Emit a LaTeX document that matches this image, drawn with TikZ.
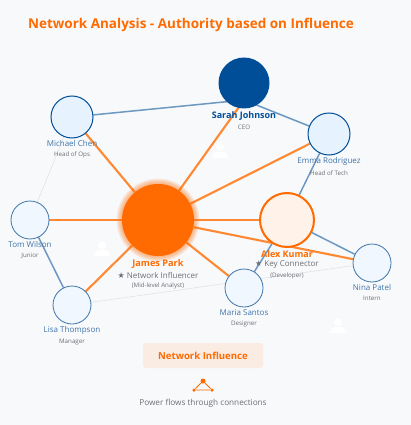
\documentclass[tikz,border=0pt]{standalone}
\usepackage{fontspec}
\setmainfont{Open Sans}
\newfontfamily\symfont{DejaVu Sans}
\usepackage{xcolor}
\usetikzlibrary{positioning, backgrounds}

\definecolor{pagebg}{HTML}{F8F9FB}
\definecolor{inforange}{HTML}{FF6B00}
\definecolor{authblue}{HTML}{004E98}
\definecolor{linkblue}{HTML}{6C98C2}
\definecolor{namecol}{HTML}{3F74AB}
\definecolor{rolecol}{HTML}{6B6F76}
\definecolor{seniorfill}{HTML}{E6F2FE}
\definecolor{juniorfill}{HTML}{F0F7FE}
\definecolor{alexfill}{HTML}{FFF3E9}
\definecolor{boxfill}{HTML}{FAEBE3}

\tikzset{
    person/.style={circle, inner sep=0pt, minimum size=#1},
    senior/.style={person=42pt, draw=authblue, line width=1pt, fill=seniorfill},
    junior/.style={person=38pt, draw=namecol, line width=.8pt, fill=juniorfill},
    flow/.style={draw=inforange!80!white, line width=2.1pt},
    link/.style={draw=linkblue, line width=1.5pt},
    faint/.style={draw=black!12, line width=.5pt},
    pname/.style={text=namecol, font=\fontsize{8}{9}\selectfont, inner sep=0pt},
    prole/.style={text=rolecol, font=\fontsize{6.2}{7}\selectfont, inner sep=0pt},
    usericon/.pic={
        \fill[white] (0,-5) circle (4);
        \fill[white] (-8,6) .. controls (-8,0) and (-4,0) .. (0,0) .. controls (4,0) and (8,0) .. (8,6) -- cycle;
    }
}

\begin{document}
\begin{tikzpicture}[x=1pt, y=-1pt, node distance=4.5pt]
    \useasboundingbox (0,0) rectangle (411,425);
    \begin{scope}[on background layer]
        \fill[pagebg] (0,0) rectangle (411,425);
    \end{scope}

    \node[text=inforange, font=\fontsize{13.5}{17}\selectfont\bfseries, inner sep=0pt] (title) at (191,25) {Network Analysis - Authority based on Influence};

    \pic at (102,250) {usericon};
    \pic at (220,152) {usericon};
    \pic at (338,327) {usericon};

    % glow behind the influencer
    \foreach \r in {36.5,37.5,...,41.5} {
        \fill[inforange, opacity=.1] (158,220) circle (\r);
    }

    \node[senior] (michael) at (72,117) {};
    \node[senior] (emma) at (329,134) {};
    \node[junior] (tom) at (30,220) {};
    \node[junior] (lisa) at (72,305) {};
    \node[junior] (maria) at (244,288) {};
    \node[junior] (nina) at (372,263) {};
    \node[person=51pt, fill=authblue] (sarah) at (244,83) {};
    \node[person=72pt, fill=inforange] (james) at (158,220) {};
    \node[person=54pt, draw=inforange, line width=2pt, fill=alexfill] (alex) at (287,220) {};
    \coordinate (sarahhub) at (244,100);

    \begin{scope}[on background layer]
        \path[faint]
            (michael) edge (tom)
            (lisa) edge (nina);
        \path[link]
            (michael) edge (sarahhub)
            (sarahhub) edge (emma)
            (emma) edge (alex)
            (alex) edge (nina)
            (alex) edge (maria)
            (tom) edge (lisa);
        \path[flow]
            (james) edge (michael)
            (james) edge (sarahhub)
            (james) edge (emma)
            (james) edge (alex)
            (james) edge (nina)
            (james) edge (maria)
            (james) edge (tom)
            (james) edge (lisa);
    \end{scope}

    \node[pname, below=2pt of michael] (michaelname) {Michael Chen};
    \node[prole, below=of michaelname] (michaelrole) {Head of Ops};
    \node[pname, below=2pt of emma] (emmaname) {Emma Rodriguez};
    \node[prole, below=of emmaname] (emmarole) {Head of Tech};
    \node[pname, below=2pt of tom] (tomname) {Tom Wilson};
    \node[prole, below=of tomname] (tomrole) {Junior};
    \node[pname, below=2pt of lisa] (lisaname) {Lisa Thompson};
    \node[prole, below=of lisaname] (lisarole) {Manager};
    \node[pname, below=2pt of maria] (marianame) {Maria Santos};
    \node[prole, below=of marianame] (mariarole) {Designer};
    \node[pname, below=2pt of nina] (ninaname) {Nina Patel};
    \node[prole, below=of ninaname] (ninarole) {Intern};

    \node[pname, text=authblue, font=\fontsize{9}{10}\selectfont\bfseries, below=2.5pt of sarah] (sarahname) {Sarah Johnson};
    \node[prole, below=of sarahname] (sarahrole) {CEO};

    \node[pname, text=inforange, font=\fontsize{9.2}{10}\selectfont\bfseries, below=3pt of james] (jamesname) {James Park};
    \node[prole, font=\fontsize{8}{9}\selectfont, below=3.5pt of jamesname] (jamesbadge) {{\symfont ★} Network Influencer};
    \node[prole, below=3.5pt of jamesbadge] (jamesrole) {(Mid-level Analyst)};

    \node[pname, text=inforange, font=\fontsize{9}{10}\selectfont\bfseries, below=2pt of alex] (alexname) {Alex Kumar};
    \node[prole, font=\fontsize{8}{9}\selectfont, below=3.5pt of alexname] (alexbadge) {{\symfont ★} Key Connector};
    \node[prole, below=3.5pt of alexbadge] (alexrole) {(Developer)};

    % legend
    \node[fill=boxfill, rounded corners=3pt, minimum width=120pt, minimum height=25pt, inner sep=0pt, text=inforange, font=\fontsize{9.6}{10}\selectfont\bfseries] (legend) at (203,355.5) {Network Influence};
    \node[circle, fill=inforange, inner sep=0pt, minimum size=5pt] (icontop) at (203,381) {};
    \node[circle, fill=inforange, inner sep=0pt, minimum size=3.5pt] (iconleft) at (194,390) {};
    \node[circle, fill=inforange, inner sep=0pt, minimum size=3.5pt] (iconright) at (212,390) {};
    \draw[inforange, line width=.8pt] (icontop) -- (iconleft) -- (iconright) -- (icontop);
    \node[text=rolecol, font=\fontsize{8.2}{9}\selectfont, inner sep=0pt] (caption) at (203,403) {Power flows through connections};
\end{tikzpicture}
\end{document}
